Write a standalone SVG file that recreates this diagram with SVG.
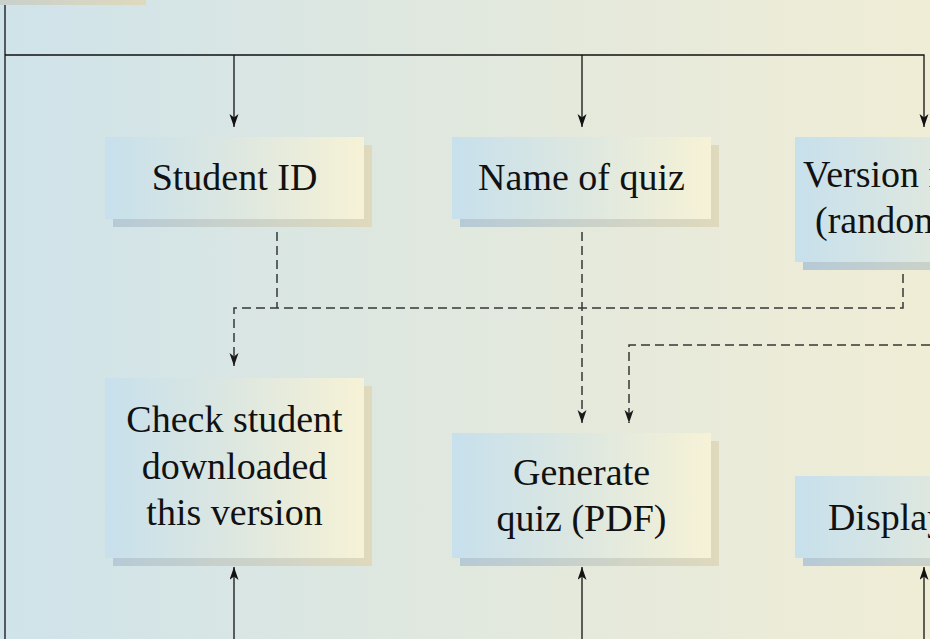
<svg xmlns="http://www.w3.org/2000/svg" width="930" height="639" viewBox="0 0 930 639">
<defs>
<linearGradient id="bg" gradientUnits="userSpaceOnUse" x1="0" y1="0" x2="930" y2="0">
<stop offset="0" stop-color="#cfe3ea"/>
<stop offset="0.5" stop-color="#e1e8de"/>
<stop offset="1" stop-color="#f0edd5"/>
</linearGradient>
<linearGradient id="boxg" x1="0" y1="0" x2="1" y2="0">
<stop offset="0" stop-color="#c7e0ec"/>
<stop offset="0.5" stop-color="#dde7e0"/>
<stop offset="1" stop-color="#f6f2d6"/>
</linearGradient>
<linearGradient id="shg" x1="0" y1="0" x2="1" y2="0">
<stop offset="0" stop-color="#b6cad6"/>
<stop offset="1" stop-color="#dfd9bd"/>
</linearGradient>
<marker id="arr" markerUnits="userSpaceOnUse" markerWidth="14" markerHeight="10" refX="13" refY="4.5" orient="auto">
<path d="M0,0 L13,4.5 L0,9 L3.5,4.5 z" fill="#111"/>
</marker>
<marker id="arrd" markerUnits="userSpaceOnUse" markerWidth="14" markerHeight="10" refX="13" refY="4.5" orient="auto">
<path d="M0,0 L13,4.5 L0,9 L3.5,4.5 z" fill="#1a1a1a"/>
</marker>
</defs>
<style>
.box{fill:url(#boxg);}
.sh{fill:url(#shg);}
.t{font-family:"Liberation Serif","Times New Roman",serif;font-size:38px;fill:#111;text-anchor:middle;}
.ts{font-family:"Liberation Serif","Times New Roman",serif;font-size:38px;fill:#111;text-anchor:start;}
.solid{fill:none;stroke:#111;stroke-width:1.3;}
.dash{fill:none;stroke:#353939;stroke-width:1.5;stroke-dasharray:9,5;}
</style>
<rect x="0" y="0" width="930" height="639" fill="url(#bg)"/>

<g id="node-top">
<rect class="sh" x="-113" y="-120" width="259" height="125"/>
<rect class="box" x="-121" y="-128" width="259" height="125"/>
</g>

<g id="connectors">
<path class="solid" d="M5,5 V639"/>
<path class="solid" d="M5,55 H924 V127" marker-end="url(#arr)"/>
<path class="solid" d="M234,55 V127" marker-end="url(#arr)"/>
<path class="solid" d="M582,55 V127" marker-end="url(#arr)"/>
<path class="solid" d="M234,639 V567" marker-end="url(#arr)"/>
<path class="solid" d="M582,639 V567" marker-end="url(#arr)"/>
<path class="solid" d="M924,639 V567" marker-end="url(#arr)"/>
<path class="dash" d="M903,274 V308 H234 V366" marker-end="url(#arrd)"/>
<path class="dash" d="M277,232 V308"/>
<path class="dash" d="M582,232 V423" marker-end="url(#arrd)"/>
<path class="dash" d="M930,345 H629 V423" marker-end="url(#arrd)"/>
</g>

<g id="node-student-id">
<rect class="sh" x="113" y="145" width="259" height="82"/>
<rect class="box" x="105" y="137" width="259" height="82"/>
<text class="t" x="234.5" y="190">Student ID</text>
</g>

<g id="node-name-of-quiz">
<rect class="sh" x="460" y="145" width="259" height="82"/>
<rect class="box" x="452" y="137" width="259" height="82"/>
<text class="t" x="581.5" y="190">Name of quiz</text>
</g>

<g id="node-version">
<rect class="sh" x="803" y="145" width="259" height="125"/>
<rect class="box" x="795" y="137" width="259" height="125"/>
<text class="ts" x="803" y="187">Version number</text>
<text class="ts" x="815" y="233">(random)</text>
</g>

<g id="node-check">
<rect class="sh" x="113" y="386" width="259" height="180"/>
<rect class="box" x="105" y="378" width="259" height="180"/>
<text class="t" x="234.5" y="432">Check student</text>
<text class="t" x="234.5" y="478.5">downloaded</text>
<text class="t" x="234.5" y="525">this version</text>
</g>

<g id="node-generate">
<rect class="sh" x="460" y="441" width="259" height="125"/>
<rect class="box" x="452" y="433" width="259" height="125"/>
<text class="t" x="581.5" y="484.5">Generate</text>
<text class="t" x="581.5" y="531">quiz (PDF)</text>
</g>

<g id="node-display">
<rect class="sh" x="803" y="484" width="259" height="82"/>
<rect class="box" x="795" y="476" width="259" height="82"/>
<text class="t" x="924.5" y="529.5">Display quiz</text>
</g>
</svg>
